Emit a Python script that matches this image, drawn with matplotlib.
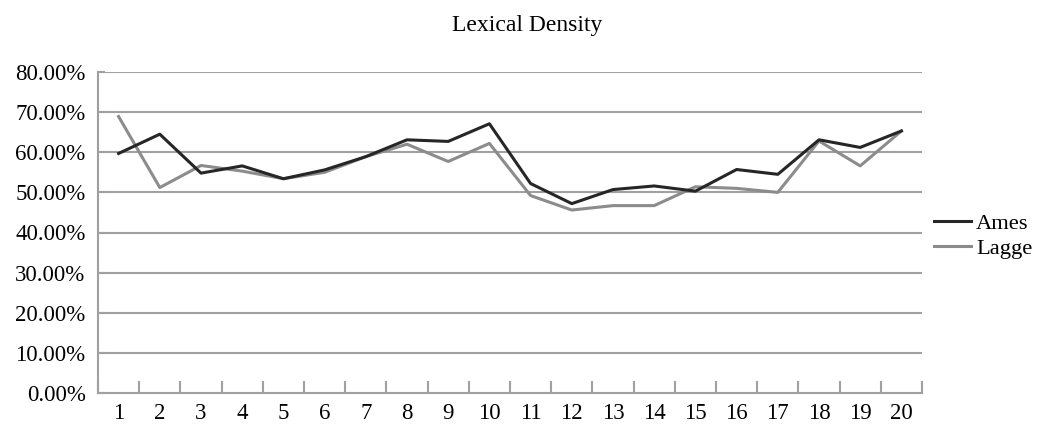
import matplotlib
matplotlib.use('Agg')
import matplotlib.pyplot as plt
from matplotlib.ticker import FuncFormatter, FixedLocator

plt.rcParams['font.family'] = ['Liberation Serif', 'DejaVu Serif']

# texts / series
segments = list(range(1, 21))
ames = [59.7, 64.5, 54.8, 56.6, 53.4, 55.6, 58.9, 63.1, 62.7, 67.1,
        52.2, 47.2, 50.7, 51.6, 50.3, 55.7, 54.5, 63.1, 61.2, 65.3]
lagge = [68.9, 51.2, 56.7, 55.3, 53.4, 55.0, 58.9, 62.0, 57.7, 62.2,
         49.2, 45.6, 46.7, 46.7, 51.4, 51.0, 50.0, 62.8, 56.6, 65.3]
y_ticks = [0, 10, 20, 30, 40, 50, 60, 70, 80]

grey = '#a0a0a0'

fig = plt.figure(figsize=(10.38, 4.30), dpi=100)
ax = fig.add_axes([98/1038, 1-393/430, 824/1038, 321/430])

for v in y_ticks[1:]:
    ax.axhline(v, color=grey, lw=1.5, zorder=1)

ax.plot(segments, ames, color='#262626', lw=2.2, label='Ames', zorder=3)
ax.plot(segments, lagge, color='#8c8c8c', lw=2.2, label='Lagge', zorder=2)

ax.set_xlim(0.5, 20.5)
ax.set_ylim(0, 80)

# category ticks sit between the labels, like the original
ax.xaxis.set_major_locator(FixedLocator([i + 0.5 for i in range(0, 21)]))
ax.xaxis.set_minor_locator(FixedLocator(segments))
ax.set_xticklabels([])
ax.set_xticklabels([str(s) for s in segments], minor=True)
ax.tick_params(axis='x', which='major', direction='in', length=9, width=1.5, color=grey)
ax.tick_params(axis='x', which='minor', length=0, pad=7, labelsize=16.5)

ax.set_yticks(y_ticks)
ax.yaxis.set_major_formatter(FuncFormatter(lambda v, p: '%.2f%%' % v))
ax.tick_params(axis='y', direction='in', length=5, width=1.5, color=grey, pad=9, labelsize=16.5)

for side in ['top', 'right']:
    ax.spines[side].set_visible(False)
for side in ['left', 'bottom']:
    ax.spines[side].set_color(grey)
    ax.spines[side].set_linewidth(1.5)

fig.text(527/1038, 1-25/430, 'Lexical Density', ha='center', va='center', fontsize=17)

ax.legend(loc='center left', bbox_to_anchor=(934/1038, 1-236/430),
          bbox_transform=fig.transFigure, frameon=False, fontsize=16.2,
          handlelength=1.65, handletextpad=0.22, labelspacing=0.2,
          borderpad=0, borderaxespad=0)

fig.savefig('out.png', dpi=100)
